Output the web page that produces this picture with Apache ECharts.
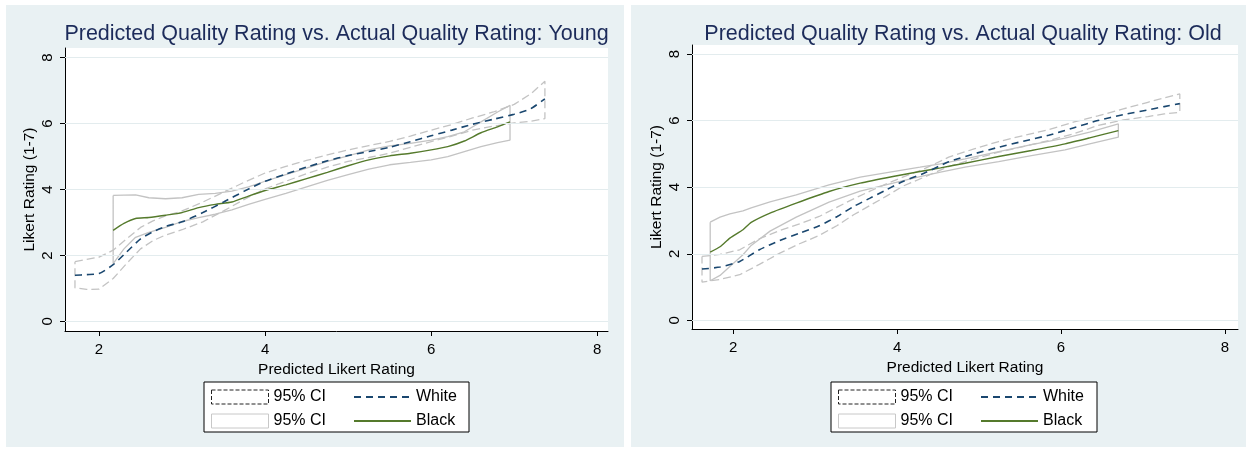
<!DOCTYPE html>
<html><head><meta charset="utf-8">
<script src="https://cdn.jsdelivr.net/npm/echarts@6/dist/echarts.min.js"></script>
<style>html,body{margin:0;padding:0;background:#fff}#c{width:1248px;height:450px}</style>
</head><body><div id="c"></div>
<script>
// ---------- data ----------
const panelTitles = ['Predicted Quality Rating vs. Actual Quality Rating: Young',
                     'Predicted Quality Rating vs. Actual Quality Rating: Old'];
const xAxisName = 'Predicted Likert Rating';
const yAxisName = 'Likert Rating (1-7)';
const xTicks = [2, 4, 6, 8];
const yTicks = [0, 2, 4, 6, 8];
const legendNames = {'White CI': '95% CI', 'Black CI': '95% CI', 'White': 'White', 'Black': 'Black'};

// Young
const youngWhiteX  = [1.71,1.85,2.0,2.17,2.33,2.5,2.65,2.8,3.0,3.25,3.5,3.75,4.0,4.25,4.5,4.75,5.0,5.25,5.5,5.75,6.0,6.25,6.5,6.75,7.0,7.2,7.37];
const youngWhite   = [1.40,1.42,1.45,1.72,2.10,2.50,2.72,2.88,3.02,3.30,3.62,3.95,4.25,4.47,4.68,4.87,5.03,5.15,5.28,5.45,5.63,5.80,5.98,6.13,6.28,6.45,6.75];
const youngWhiteHi = [1.81,1.88,1.95,2.16,2.50,2.85,3.05,3.20,3.35,3.62,3.92,4.22,4.50,4.70,4.88,5.05,5.20,5.33,5.46,5.62,5.80,5.97,6.17,6.35,6.58,6.90,7.28];
const youngWhiteLo = [1.02,0.97,0.98,1.30,1.75,2.20,2.45,2.62,2.78,3.02,3.35,3.70,4.02,4.25,4.48,4.68,4.85,4.97,5.10,5.28,5.45,5.62,5.80,5.92,6.02,6.07,6.15];

const youngBlackX  = [2.17,2.3,2.44,2.6,2.8,3.0,3.2,3.4,3.6,3.8,4.0,4.25,4.5,4.75,5.0,5.25,5.5,5.75,6.0,6.2,6.4,6.6,6.8,6.95];
const youngBlack   = [2.76,2.97,3.12,3.15,3.22,3.30,3.45,3.55,3.62,3.80,3.97,4.14,4.33,4.52,4.72,4.90,5.02,5.10,5.20,5.30,5.47,5.72,5.90,6.05];
const youngBlackHi = [3.82,3.83,3.84,3.75,3.72,3.75,3.85,3.88,3.95,4.08,4.25,4.45,4.65,4.85,5.02,5.20,5.32,5.40,5.50,5.60,5.75,6.05,6.35,6.55];
const youngBlackLo = [1.75,2.20,2.55,2.70,2.85,3.03,3.15,3.25,3.38,3.55,3.70,3.88,4.08,4.28,4.45,4.62,4.75,4.82,4.90,5.00,5.15,5.30,5.42,5.50];

// Old
const oldWhiteX  = [1.62,1.84,2.08,2.32,2.57,2.81,3.05,3.27,3.47,3.67,3.87,4.07,4.33,4.63,4.94,5.24,5.54,5.85,6.15,6.45,6.76,7.06,7.26,7.45];
const oldWhite   = [1.54,1.60,1.77,2.12,2.40,2.62,2.84,3.12,3.42,3.67,3.92,4.17,4.42,4.76,5.00,5.20,5.38,5.56,5.78,6.00,6.18,6.32,6.42,6.51];
const oldWhiteHi = [1.92,1.98,2.12,2.45,2.70,2.90,3.12,3.40,3.65,3.88,4.10,4.30,4.55,4.90,5.15,5.37,5.55,5.73,5.95,6.14,6.35,6.55,6.68,6.80];
const oldWhiteLo = [1.15,1.23,1.37,1.68,2.02,2.30,2.55,2.85,3.17,3.45,3.73,4.03,4.30,4.62,4.85,5.05,5.22,5.40,5.60,5.85,6.02,6.12,6.20,6.25];

const oldBlackX  = [1.72,1.84,1.96,2.12,2.22,2.45,2.77,3.17,3.55,3.95,4.28,4.53,4.83,5.24,5.64,6.05,6.35,6.70];
const oldBlack   = [2.05,2.21,2.47,2.72,2.94,3.22,3.52,3.87,4.12,4.32,4.47,4.58,4.72,4.92,5.10,5.30,5.48,5.70];
const oldBlackHi = [2.95,3.10,3.20,3.29,3.38,3.56,3.77,4.07,4.30,4.47,4.60,4.70,4.85,5.07,5.28,5.47,5.65,5.90];
const oldBlackLo = [1.19,1.35,1.62,1.97,2.25,2.68,3.10,3.55,3.88,4.12,4.32,4.45,4.60,4.77,4.95,5.12,5.30,5.50];

// ---------- helpers ----------
function zip(xs, ys) { return xs.map((x, i) => [x, ys[i]]); }
function ciOutline(xs, lo, hi) {
  const pts = xs.map((x, i) => [x, hi[i]]);
  for (let i = xs.length - 1; i >= 0; i--) pts.push([xs[i], lo[i]]);
  pts.push([xs[0], hi[0]]);
  return pts;
}

const FONT = 'Liberation Sans, Arial, Helvetica, sans-serif';
const NAVY = '#1a476f', GREEN = '#557a2c', CIGRAY = '#c3c3c3', BG = '#e9f1f3', GRIDC = '#e3ecee';

const panels = [
  {grid: {left: 65, right: 640, top: 48, bottom: 119}, xmin: 1.59, xmax: 8.13, ymin: -0.29, ymax: 8.29,
   wx: youngWhiteX, w: youngWhite, wh: youngWhiteHi, wl: youngWhiteLo,
   bx: youngBlackX, b: youngBlack, bh: youngBlackHi, bl: youngBlackLo,
   bgRect: [6, 5, 618, 442], center: 336.5, legendBox: [204, 382, 265, 50]},
  {grid: {left: 692, right: 10, top: 45, bottom: 121}, xmin: 1.498, xmax: 8.16, ymin: -0.26, ymax: 8.27,
   wx: oldWhiteX, w: oldWhite, wh: oldWhiteHi, wl: oldWhiteLo,
   bx: oldBlackX, b: oldBlack, bh: oldBlackHi, bl: oldBlackLo,
   bgRect: [631, 5, 615, 442], center: 963, legendBox: [831, 382, 266, 50]}
];

const option = {
  backgroundColor: '#ffffff',
  animation: false,
  title: [], grid: [], xAxis: [], yAxis: [], series: [], legend: [], graphic: []
};

panels.forEach((p, k) => {
  option.graphic.push({type: 'rect', z: -10, shape: {x: p.bgRect[0], y: p.bgRect[1], width: p.bgRect[2], height: p.bgRect[3]},
    style: {fill: BG}});
  option.graphic.push({type: 'rect', z: -5, shape: {x: p.legendBox[0], y: p.legendBox[1], width: p.legendBox[2], height: p.legendBox[3]},
    style: {fill: '#fff', stroke: '#000', lineWidth: 1}});
  option.title.push({text: panelTitles[k], left: p.center, top: 23, textAlign: 'center', padding: 0,
    textStyle: {fontFamily: FONT, fontSize: 21.5, fontWeight: 'normal', color: '#1c2b5a'}});
  option.grid.push(Object.assign({show: true, backgroundColor: '#fff', borderWidth: 0}, p.grid));
  option.xAxis.push({type: 'value', gridIndex: k, min: p.xmin, max: p.xmax,
    name: xAxisName, nameLocation: 'middle', nameGap: 26,
    nameTextStyle: {fontFamily: FONT, fontSize: 15.5, color: '#000'},
    axisLine: {show: true, onZero: false, lineStyle: {color: '#000', width: 1}},
    axisTick: {show: true, length: 5, customValues: xTicks, lineStyle: {color: '#000'}},
    axisLabel: {customValues: xTicks, margin: 11, fontFamily: FONT, fontSize: 15, color: '#000'},
    splitLine: {show: false}});
  option.yAxis.push({type: 'value', gridIndex: k, min: p.ymin, max: p.ymax,
    name: yAxisName, nameLocation: 'middle', nameGap: 27,
    nameTextStyle: {fontFamily: FONT, fontSize: 15.5, color: '#000'},
    axisLine: {show: true, onZero: false, lineStyle: {color: '#000', width: 1}},
    axisTick: {show: true, length: 5, customValues: yTicks, lineStyle: {color: '#000'}},
    axisLabel: {customValues: yTicks, rotate: 90, margin: 10, fontFamily: FONT, fontSize: 15, color: '#000'},
    splitLine: {show: false}});
  // grid lines
  option.series.push({type: 'line', xAxisIndex: k, yAxisIndex: k, data: [], z: 1, silent: true,
    markLine: {silent: true, symbol: ['none', 'none'], label: {show: false},
      lineStyle: {color: GRIDC, type: 'solid', width: 1.2},
      data: yTicks.map(v => ({yAxis: v}))}});
  option.series.push({name: 'White CI', type: 'line', xAxisIndex: k, yAxisIndex: k, z: 2,
    data: ciOutline(p.wx, p.wl, p.wh), symbol: 'none', showSymbol: false,
    lineStyle: {color: CIGRAY, width: 1.3, type: [8, 4]}});
  option.series.push({name: 'Black CI', type: 'line', xAxisIndex: k, yAxisIndex: k, z: 3,
    data: ciOutline(p.bx, p.bl, p.bh), symbol: 'none', showSymbol: false,
    lineStyle: {color: CIGRAY, width: 1.3}});
  option.series.push({name: 'White', type: 'line', xAxisIndex: k, yAxisIndex: k, z: 5,
    data: zip(p.wx, p.w), symbol: 'none', showSymbol: false, smooth: 0.2,
    lineStyle: {color: NAVY, width: 1.6, type: [7, 5]}, itemStyle: {color: NAVY}});
  option.series.push({name: 'Black', type: 'line', xAxisIndex: k, yAxisIndex: k, z: 4,
    data: zip(p.bx, p.b), symbol: 'none', showSymbol: false, smooth: 0.2,
    lineStyle: {color: GREEN, width: 1.4}, itemStyle: {color: GREEN}});

  const lx = p.legendBox[0];
  const common = {orient: 'vertical', top: 389, itemWidth: 57, itemHeight: 14, itemGap: 8, padding: 0,
    selectedMode: false, formatter: n => legendNames[n],
    textStyle: {fontFamily: FONT, fontSize: 16, color: '#000'}};
  option.legend.push(Object.assign({}, common, {left: lx + 7,
    data: [
      {name: 'White CI', icon: 'rect', itemStyle: {color: '#fff', borderColor: '#222', borderWidth: 1, borderType: [4, 2]}},
      {name: 'Black CI', icon: 'rect', itemStyle: {color: '#fff', borderColor: '#c8c8c8', borderWidth: 1, borderType: 'solid'}}
    ]}));
  option.legend.push(Object.assign({}, common, {left: lx + 149,
    data: [
      {name: 'White', itemStyle: {color: 'transparent', borderWidth: 0}},
      {name: 'Black', itemStyle: {color: 'transparent', borderWidth: 0}}
    ]}));
});

const chart = echarts.init(document.getElementById('c'), null, {renderer: 'canvas'});
chart.setOption(option);
</script>
</body></html>
